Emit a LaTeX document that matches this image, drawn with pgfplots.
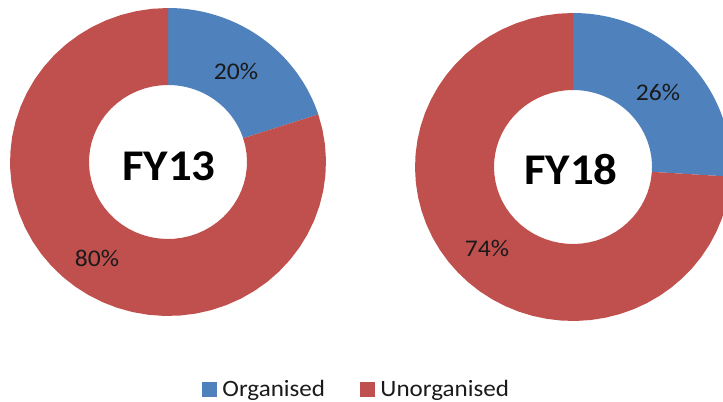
\documentclass[border=0pt]{standalone}
\usepackage{pgfplots}
\usepackage{pgfplotstable}
\pgfplotsset{compat=1.18}
\usepackage{fontspec}
\setmainfont[FakeStretch=1.07]{Carlito}
\definecolor{orgblue}{HTML}{4F81BD}
\definecolor{unorgred}{HTML}{C0504D}
\definecolor{txt}{HTML}{1A1A1A}

\pgfplotstableread{
segment FY13 FY18
Organised 20 26
Unorganised 80 74
}\sharetable

\pgfplotstablegetelem{0}{FY13}\of\sharetable \let\oA\pgfplotsretval
\pgfplotstablegetelem{1}{FY13}\of\sharetable \let\uA\pgfplotsretval
\pgfplotstablegetelem{0}{FY18}\of\sharetable \let\oB\pgfplotsretval
\pgfplotstablegetelem{1}{FY18}\of\sharetable \let\uB\pgfplotsretval

% angles, clockwise from 12 o'clock
\pgfmathsetmacro\aAone{3.6*\oA}
\pgfmathsetmacro\aAtwo{\aAone+3.6*\uA}
\pgfmathsetmacro\aBone{3.6*\oB}
\pgfmathsetmacro\aBtwo{\aBone+3.6*\uB}

\def\Rx{158}\def\Ry{154}\def\rx{79}\def\ry{77}

% #1 cx, #2 cy, #3 a0, #4 a1, #5 colour
\newcommand\slice[5]{%
\addplot[fill=#5, draw=none, forget plot,
  samples at={0,2,...,100,200,202,...,300}, variable=\t]
  ({#1 + ((\t<150) ? \Rx : \rx)*sin((\t<150) ? (#3+(\t/100)*(#4-#3)) : (#4-((\t-200)/100)*(#4-#3)))},
   {#2 + ((\t<150) ? \Ry : \ry)*cos((\t<150) ? (#3+(\t/100)*(#4-#3)) : (#4-((\t-200)/100)*(#4-#3)))});
}

\begin{document}
\begin{tikzpicture}
\begin{axis}[
  name=main,
  scale only axis, width=723bp, height=402bp,
  xmin=0, xmax=723, ymin=0, ymax=402,
  axis lines=none, clip=true,
  legend columns=2,
  legend style={at={(356.5/723,13/402)}, anchor=center, draw=none, fill=none,
    font=\fontsize{23.5}{27}\selectfont, text=txt,
    /tikz/every even column/.append style={column sep=33bp}},
  legend image code/.code={\fill[#1] (0bp,-7bp) rectangle (14bp,7bp); \path (18bp,0bp);},
]
\slice{168}{240}{0}{\aAone}{orgblue}
\slice{168}{240}{\aAone}{\aAtwo}{unorgred}
\slice{573}{235}{0}{\aBone}{orgblue}
\slice{573}{235}{\aBone}{\aBtwo}{unorgred}

\addlegendimage{orgblue}
\addlegendentry{Organised}
\addlegendimage{unorgred}
\addlegendentry{Unorganised}

\node[text=txt, font=\fontsize{24}{28}\selectfont] at (axis cs:236,331) {20\%};
\node[text=txt, font=\fontsize{24}{28}\selectfont] at (axis cs:97,144) {80\%};
\node[text=txt, font=\fontsize{24}{28}\selectfont] at (axis cs:658,310) {26\%};
\node[text=txt, font=\fontsize{24}{28}\selectfont] at (axis cs:487,154) {74\%};
\node[text=black, font=\bfseries\fontsize{44}{50}\selectfont] at (axis cs:169,236) {FY13};
\node[text=black, font=\bfseries\fontsize{44}{50}\selectfont] at (axis cs:571,232) {FY18};
\end{axis}
\pgfresetboundingbox
\useasboundingbox (main.south west) rectangle (main.north east);
\end{tikzpicture}
\end{document}
